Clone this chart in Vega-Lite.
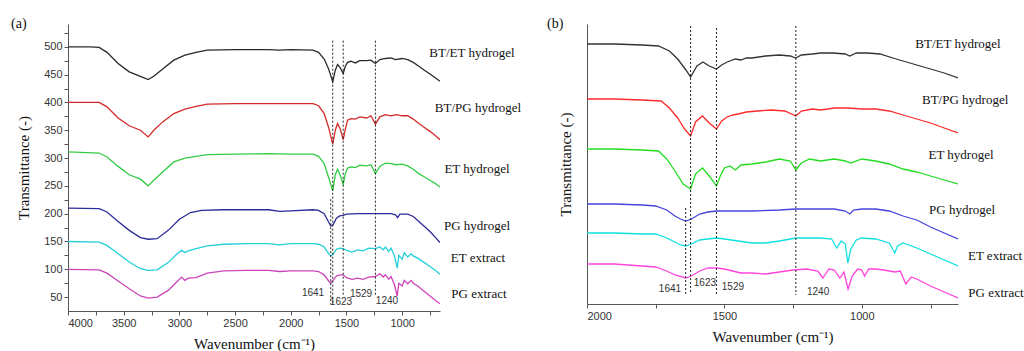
{
  "$schema": "https://vega.github.io/schema/vega-lite/v6.json",
  "padding": {"left": 11, "top": 17, "right": 0, "bottom": 0},
  "bounds": "flush",
  "spacing": 147,
  "resolve": {"scale": {"x": "independent", "y": "independent", "color": "independent"}},
  "config": {
    "view": {"stroke": null},
    "axis": {"grid": false, "domainColor": "#555", "tickColor": "#555", "tickSize": 4, "labelOverlap": false, "labelFont": "Liberation Sans", "labelFontSize": 11, "labelColor": "#333", "titleFont": "Liberation Serif", "titleFontSize": 15, "titleFontWeight": "normal", "titleColor": "#111"},
    "title": {"font": "Liberation Serif", "fontSize": 14, "fontWeight": "normal", "anchor": "start", "frame": "group", "offset": -7, "color": "#111"}
  },
  "datasets": {
    "a": [
      {"s":"BT/ET hydrogel","w":4000,"t":500},{"s":"BT/ET hydrogel","w":3800,"t":500},{"s":"BT/ET hydrogel","w":3720,"t":499},{"s":"BT/ET hydrogel","w":3650,"t":490},{"s":"BT/ET hydrogel","w":3550,"t":470},{"s":"BT/ET hydrogel","w":3450,"t":455},{"s":"BT/ET hydrogel","w":3350,"t":447},{"s":"BT/ET hydrogel","w":3280,"t":441},{"s":"BT/ET hydrogel","w":3230,"t":447},{"s":"BT/ET hydrogel","w":3150,"t":460},{"s":"BT/ET hydrogel","w":3050,"t":476},{"s":"BT/ET hydrogel","w":2950,"t":485},{"s":"BT/ET hydrogel","w":2850,"t":490},{"s":"BT/ET hydrogel","w":2750,"t":494},{"s":"BT/ET hydrogel","w":2500,"t":495},{"s":"BT/ET hydrogel","w":2200,"t":495},{"s":"BT/ET hydrogel","w":2100,"t":494},{"s":"BT/ET hydrogel","w":2000,"t":495},{"s":"BT/ET hydrogel","w":1800,"t":494},{"s":"BT/ET hydrogel","w":1750,"t":490},{"s":"BT/ET hydrogel","w":1700,"t":478},{"s":"BT/ET hydrogel","w":1660,"t":460},{"s":"BT/ET hydrogel","w":1623,"t":437},{"s":"BT/ET hydrogel","w":1600,"t":458},{"s":"BT/ET hydrogel","w":1580,"t":468},{"s":"BT/ET hydrogel","w":1555,"t":462},{"s":"BT/ET hydrogel","w":1529,"t":452},{"s":"BT/ET hydrogel","w":1510,"t":465},{"s":"BT/ET hydrogel","w":1490,"t":472},{"s":"BT/ET hydrogel","w":1460,"t":474},{"s":"BT/ET hydrogel","w":1420,"t":471},{"s":"BT/ET hydrogel","w":1380,"t":475},{"s":"BT/ET hydrogel","w":1320,"t":475},{"s":"BT/ET hydrogel","w":1280,"t":476},{"s":"BT/ET hydrogel","w":1240,"t":470},{"s":"BT/ET hydrogel","w":1200,"t":477},{"s":"BT/ET hydrogel","w":1150,"t":479},{"s":"BT/ET hydrogel","w":1100,"t":480},{"s":"BT/ET hydrogel","w":1060,"t":477},{"s":"BT/ET hydrogel","w":1000,"t":479},{"s":"BT/ET hydrogel","w":950,"t":477},{"s":"BT/ET hydrogel","w":900,"t":472},{"s":"BT/ET hydrogel","w":850,"t":465},{"s":"BT/ET hydrogel","w":800,"t":458},{"s":"BT/ET hydrogel","w":750,"t":451},{"s":"BT/ET hydrogel","w":700,"t":444},{"s":"BT/ET hydrogel","w":660,"t":438},
      {"s":"BT/PG hydrogel","w":4000,"t":400},{"s":"BT/PG hydrogel","w":3720,"t":400},{"s":"BT/PG hydrogel","w":3650,"t":392},{"s":"BT/PG hydrogel","w":3550,"t":372},{"s":"BT/PG hydrogel","w":3450,"t":358},{"s":"BT/PG hydrogel","w":3350,"t":350},{"s":"BT/PG hydrogel","w":3280,"t":338},{"s":"BT/PG hydrogel","w":3230,"t":350},{"s":"BT/PG hydrogel","w":3150,"t":365},{"s":"BT/PG hydrogel","w":3050,"t":380},{"s":"BT/PG hydrogel","w":2950,"t":388},{"s":"BT/PG hydrogel","w":2850,"t":393},{"s":"BT/PG hydrogel","w":2750,"t":397},{"s":"BT/PG hydrogel","w":2500,"t":398},{"s":"BT/PG hydrogel","w":2200,"t":398},{"s":"BT/PG hydrogel","w":2000,"t":398},{"s":"BT/PG hydrogel","w":1800,"t":398},{"s":"BT/PG hydrogel","w":1750,"t":394},{"s":"BT/PG hydrogel","w":1700,"t":380},{"s":"BT/PG hydrogel","w":1660,"t":355},{"s":"BT/PG hydrogel","w":1623,"t":325},{"s":"BT/PG hydrogel","w":1600,"t":350},{"s":"BT/PG hydrogel","w":1580,"t":362},{"s":"BT/PG hydrogel","w":1555,"t":352},{"s":"BT/PG hydrogel","w":1529,"t":333},{"s":"BT/PG hydrogel","w":1510,"t":352},{"s":"BT/PG hydrogel","w":1490,"t":368},{"s":"BT/PG hydrogel","w":1460,"t":371},{"s":"BT/PG hydrogel","w":1420,"t":370},{"s":"BT/PG hydrogel","w":1380,"t":374},{"s":"BT/PG hydrogel","w":1320,"t":372},{"s":"BT/PG hydrogel","w":1280,"t":376},{"s":"BT/PG hydrogel","w":1240,"t":361},{"s":"BT/PG hydrogel","w":1200,"t":374},{"s":"BT/PG hydrogel","w":1150,"t":378},{"s":"BT/PG hydrogel","w":1100,"t":376},{"s":"BT/PG hydrogel","w":1050,"t":378},{"s":"BT/PG hydrogel","w":1000,"t":376},{"s":"BT/PG hydrogel","w":950,"t":376},{"s":"BT/PG hydrogel","w":900,"t":370},{"s":"BT/PG hydrogel","w":850,"t":362},{"s":"BT/PG hydrogel","w":800,"t":355},{"s":"BT/PG hydrogel","w":750,"t":348},{"s":"BT/PG hydrogel","w":700,"t":340},{"s":"BT/PG hydrogel","w":660,"t":333},
      {"s":"ET hydrogel","w":4000,"t":311},{"s":"ET hydrogel","w":3720,"t":309},{"s":"ET hydrogel","w":3650,"t":302},{"s":"ET hydrogel","w":3550,"t":285},{"s":"ET hydrogel","w":3450,"t":270},{"s":"ET hydrogel","w":3350,"t":262},{"s":"ET hydrogel","w":3280,"t":250},{"s":"ET hydrogel","w":3230,"t":260},{"s":"ET hydrogel","w":3150,"t":275},{"s":"ET hydrogel","w":3050,"t":293},{"s":"ET hydrogel","w":2950,"t":300},{"s":"ET hydrogel","w":2850,"t":303},{"s":"ET hydrogel","w":2750,"t":306},{"s":"ET hydrogel","w":2500,"t":307},{"s":"ET hydrogel","w":2200,"t":308},{"s":"ET hydrogel","w":2000,"t":307},{"s":"ET hydrogel","w":1800,"t":307},{"s":"ET hydrogel","w":1750,"t":303},{"s":"ET hydrogel","w":1700,"t":290},{"s":"ET hydrogel","w":1660,"t":265},{"s":"ET hydrogel","w":1623,"t":241},{"s":"ET hydrogel","w":1600,"t":270},{"s":"ET hydrogel","w":1580,"t":280},{"s":"ET hydrogel","w":1555,"t":268},{"s":"ET hydrogel","w":1529,"t":253},{"s":"ET hydrogel","w":1510,"t":272},{"s":"ET hydrogel","w":1490,"t":282},{"s":"ET hydrogel","w":1460,"t":284},{"s":"ET hydrogel","w":1420,"t":283},{"s":"ET hydrogel","w":1380,"t":287},{"s":"ET hydrogel","w":1320,"t":286},{"s":"ET hydrogel","w":1280,"t":288},{"s":"ET hydrogel","w":1240,"t":272},{"s":"ET hydrogel","w":1200,"t":285},{"s":"ET hydrogel","w":1150,"t":291},{"s":"ET hydrogel","w":1100,"t":290},{"s":"ET hydrogel","w":1050,"t":288},{"s":"ET hydrogel","w":1000,"t":289},{"s":"ET hydrogel","w":950,"t":286},{"s":"ET hydrogel","w":900,"t":280},{"s":"ET hydrogel","w":850,"t":272},{"s":"ET hydrogel","w":800,"t":266},{"s":"ET hydrogel","w":750,"t":260},{"s":"ET hydrogel","w":700,"t":254},{"s":"ET hydrogel","w":660,"t":248},
      {"s":"PG hydrogel","w":4000,"t":210},{"s":"PG hydrogel","w":3720,"t":209},{"s":"PG hydrogel","w":3650,"t":203},{"s":"PG hydrogel","w":3550,"t":186},{"s":"PG hydrogel","w":3450,"t":170},{"s":"PG hydrogel","w":3350,"t":157},{"s":"PG hydrogel","w":3280,"t":154},{"s":"PG hydrogel","w":3200,"t":155},{"s":"PG hydrogel","w":3100,"t":170},{"s":"PG hydrogel","w":3000,"t":190},{"s":"PG hydrogel","w":2900,"t":202},{"s":"PG hydrogel","w":2800,"t":206},{"s":"PG hydrogel","w":2600,"t":207},{"s":"PG hydrogel","w":2200,"t":207},{"s":"PG hydrogel","w":2100,"t":204},{"s":"PG hydrogel","w":2000,"t":205},{"s":"PG hydrogel","w":1800,"t":207},{"s":"PG hydrogel","w":1750,"t":206},{"s":"PG hydrogel","w":1700,"t":200},{"s":"PG hydrogel","w":1660,"t":185},{"s":"PG hydrogel","w":1641,"t":178},{"s":"PG hydrogel","w":1620,"t":180},{"s":"PG hydrogel","w":1590,"t":192},{"s":"PG hydrogel","w":1560,"t":196},{"s":"PG hydrogel","w":1529,"t":197},{"s":"PG hydrogel","w":1500,"t":199},{"s":"PG hydrogel","w":1400,"t":200},{"s":"PG hydrogel","w":1300,"t":200},{"s":"PG hydrogel","w":1200,"t":200},{"s":"PG hydrogel","w":1100,"t":200},{"s":"PG hydrogel","w":1060,"t":198},{"s":"PG hydrogel","w":1040,"t":193},{"s":"PG hydrogel","w":1020,"t":199},{"s":"PG hydrogel","w":1000,"t":199},{"s":"PG hydrogel","w":950,"t":199},{"s":"PG hydrogel","w":900,"t":195},{"s":"PG hydrogel","w":850,"t":186},{"s":"PG hydrogel","w":800,"t":177},{"s":"PG hydrogel","w":750,"t":168},{"s":"PG hydrogel","w":700,"t":157},{"s":"PG hydrogel","w":660,"t":148},
      {"s":"ET extract","w":4000,"t":150},{"s":"ET extract","w":3720,"t":149},{"s":"ET extract","w":3650,"t":143},{"s":"ET extract","w":3550,"t":128},{"s":"ET extract","w":3450,"t":113},{"s":"ET extract","w":3350,"t":101},{"s":"ET extract","w":3280,"t":98},{"s":"ET extract","w":3200,"t":99},{"s":"ET extract","w":3100,"t":112},{"s":"ET extract","w":3020,"t":128},{"s":"ET extract","w":2980,"t":134},{"s":"ET extract","w":2950,"t":130},{"s":"ET extract","w":2920,"t":133},{"s":"ET extract","w":2850,"t":137},{"s":"ET extract","w":2750,"t":142},{"s":"ET extract","w":2600,"t":145},{"s":"ET extract","w":2400,"t":146},{"s":"ET extract","w":2200,"t":146},{"s":"ET extract","w":2100,"t":144},{"s":"ET extract","w":2000,"t":146},{"s":"ET extract","w":1800,"t":146},{"s":"ET extract","w":1750,"t":145},{"s":"ET extract","w":1700,"t":140},{"s":"ET extract","w":1660,"t":128},{"s":"ET extract","w":1641,"t":124},{"s":"ET extract","w":1620,"t":127},{"s":"ET extract","w":1590,"t":136},{"s":"ET extract","w":1560,"t":138},{"s":"ET extract","w":1529,"t":137},{"s":"ET extract","w":1500,"t":134},{"s":"ET extract","w":1450,"t":131},{"s":"ET extract","w":1400,"t":135},{"s":"ET extract","w":1350,"t":133},{"s":"ET extract","w":1300,"t":138},{"s":"ET extract","w":1240,"t":137},{"s":"ET extract","w":1200,"t":140},{"s":"ET extract","w":1170,"t":135},{"s":"ET extract","w":1150,"t":140},{"s":"ET extract","w":1120,"t":132},{"s":"ET extract","w":1100,"t":138},{"s":"ET extract","w":1070,"t":125},{"s":"ET extract","w":1044,"t":102},{"s":"ET extract","w":1030,"t":125},{"s":"ET extract","w":1000,"t":118},{"s":"ET extract","w":980,"t":130},{"s":"ET extract","w":950,"t":122},{"s":"ET extract","w":920,"t":128},{"s":"ET extract","w":900,"t":124},{"s":"ET extract","w":860,"t":120},{"s":"ET extract","w":800,"t":112},{"s":"ET extract","w":750,"t":105},{"s":"ET extract","w":700,"t":98},{"s":"ET extract","w":660,"t":91},
      {"s":"PG extract","w":4000,"t":100},{"s":"PG extract","w":3720,"t":99},{"s":"PG extract","w":3650,"t":93},{"s":"PG extract","w":3550,"t":79},{"s":"PG extract","w":3450,"t":65},{"s":"PG extract","w":3350,"t":52},{"s":"PG extract","w":3280,"t":48},{"s":"PG extract","w":3200,"t":50},{"s":"PG extract","w":3100,"t":62},{"s":"PG extract","w":3020,"t":78},{"s":"PG extract","w":2980,"t":86},{"s":"PG extract","w":2950,"t":80},{"s":"PG extract","w":2920,"t":84},{"s":"PG extract","w":2850,"t":85},{"s":"PG extract","w":2750,"t":93},{"s":"PG extract","w":2600,"t":97},{"s":"PG extract","w":2400,"t":98},{"s":"PG extract","w":2200,"t":98},{"s":"PG extract","w":2100,"t":96},{"s":"PG extract","w":2000,"t":97},{"s":"PG extract","w":1800,"t":97},{"s":"PG extract","w":1750,"t":96},{"s":"PG extract","w":1700,"t":90},{"s":"PG extract","w":1660,"t":79},{"s":"PG extract","w":1641,"t":75},{"s":"PG extract","w":1620,"t":80},{"s":"PG extract","w":1590,"t":88},{"s":"PG extract","w":1560,"t":90},{"s":"PG extract","w":1529,"t":90},{"s":"PG extract","w":1500,"t":85},{"s":"PG extract","w":1450,"t":82},{"s":"PG extract","w":1400,"t":84},{"s":"PG extract","w":1350,"t":82},{"s":"PG extract","w":1300,"t":86},{"s":"PG extract","w":1240,"t":87},{"s":"PG extract","w":1200,"t":92},{"s":"PG extract","w":1170,"t":86},{"s":"PG extract","w":1150,"t":90},{"s":"PG extract","w":1120,"t":82},{"s":"PG extract","w":1100,"t":87},{"s":"PG extract","w":1070,"t":73},{"s":"PG extract","w":1044,"t":52},{"s":"PG extract","w":1030,"t":75},{"s":"PG extract","w":1000,"t":70},{"s":"PG extract","w":980,"t":80},{"s":"PG extract","w":950,"t":74},{"s":"PG extract","w":920,"t":80},{"s":"PG extract","w":900,"t":75},{"s":"PG extract","w":860,"t":70},{"s":"PG extract","w":800,"t":60},{"s":"PG extract","w":750,"t":52},{"s":"PG extract","w":700,"t":44},{"s":"PG extract","w":660,"t":38}
    ],
    "b": [
      {"s":"BT/ET hydrogel","w":2000,"t":260},{"s":"BT/ET hydrogel","w":1900,"t":260},{"s":"BT/ET hydrogel","w":1800,"t":259},{"s":"BT/ET hydrogel","w":1740,"t":258},{"s":"BT/ET hydrogel","w":1700,"t":253},{"s":"BT/ET hydrogel","w":1670,"t":245},{"s":"BT/ET hydrogel","w":1640,"t":234},{"s":"BT/ET hydrogel","w":1623,"t":227},{"s":"BT/ET hydrogel","w":1600,"t":238},{"s":"BT/ET hydrogel","w":1578,"t":242},{"s":"BT/ET hydrogel","w":1555,"t":238},{"s":"BT/ET hydrogel","w":1529,"t":235},{"s":"BT/ET hydrogel","w":1510,"t":239},{"s":"BT/ET hydrogel","w":1490,"t":242},{"s":"BT/ET hydrogel","w":1460,"t":245},{"s":"BT/ET hydrogel","w":1440,"t":244},{"s":"BT/ET hydrogel","w":1420,"t":246},{"s":"BT/ET hydrogel","w":1400,"t":246},{"s":"BT/ET hydrogel","w":1350,"t":248},{"s":"BT/ET hydrogel","w":1300,"t":249},{"s":"BT/ET hydrogel","w":1260,"t":248},{"s":"BT/ET hydrogel","w":1240,"t":246},{"s":"BT/ET hydrogel","w":1220,"t":249},{"s":"BT/ET hydrogel","w":1180,"t":250},{"s":"BT/ET hydrogel","w":1150,"t":251},{"s":"BT/ET hydrogel","w":1105,"t":251},{"s":"BT/ET hydrogel","w":1060,"t":250},{"s":"BT/ET hydrogel","w":1044,"t":248},{"s":"BT/ET hydrogel","w":1020,"t":251},{"s":"BT/ET hydrogel","w":980,"t":251},{"s":"BT/ET hydrogel","w":934,"t":250},{"s":"BT/ET hydrogel","w":887,"t":246},{"s":"BT/ET hydrogel","w":850,"t":243},{"s":"BT/ET hydrogel","w":800,"t":239},{"s":"BT/ET hydrogel","w":750,"t":235},{"s":"BT/ET hydrogel","w":700,"t":231},{"s":"BT/ET hydrogel","w":650,"t":226},
      {"s":"BT/PG hydrogel","w":2000,"t":205},{"s":"BT/PG hydrogel","w":1900,"t":205},{"s":"BT/PG hydrogel","w":1800,"t":204},{"s":"BT/PG hydrogel","w":1730,"t":203},{"s":"BT/PG hydrogel","w":1700,"t":196},{"s":"BT/PG hydrogel","w":1670,"t":186},{"s":"BT/PG hydrogel","w":1645,"t":175},{"s":"BT/PG hydrogel","w":1623,"t":168},{"s":"BT/PG hydrogel","w":1605,"t":182},{"s":"BT/PG hydrogel","w":1580,"t":188},{"s":"BT/PG hydrogel","w":1555,"t":181},{"s":"BT/PG hydrogel","w":1529,"t":175},{"s":"BT/PG hydrogel","w":1510,"t":183},{"s":"BT/PG hydrogel","w":1490,"t":187},{"s":"BT/PG hydrogel","w":1470,"t":189},{"s":"BT/PG hydrogel","w":1450,"t":190},{"s":"BT/PG hydrogel","w":1420,"t":192},{"s":"BT/PG hydrogel","w":1380,"t":193},{"s":"BT/PG hydrogel","w":1330,"t":194},{"s":"BT/PG hydrogel","w":1280,"t":193},{"s":"BT/PG hydrogel","w":1240,"t":188},{"s":"BT/PG hydrogel","w":1220,"t":193},{"s":"BT/PG hydrogel","w":1180,"t":195},{"s":"BT/PG hydrogel","w":1150,"t":194},{"s":"BT/PG hydrogel","w":1100,"t":196},{"s":"BT/PG hydrogel","w":1050,"t":196},{"s":"BT/PG hydrogel","w":1000,"t":195},{"s":"BT/PG hydrogel","w":950,"t":195},{"s":"BT/PG hydrogel","w":900,"t":193},{"s":"BT/PG hydrogel","w":850,"t":189},{"s":"BT/PG hydrogel","w":800,"t":185},{"s":"BT/PG hydrogel","w":750,"t":181},{"s":"BT/PG hydrogel","w":700,"t":176},{"s":"BT/PG hydrogel","w":650,"t":171},
      {"s":"ET hydrogel","w":2000,"t":155},{"s":"ET hydrogel","w":1900,"t":155},{"s":"ET hydrogel","w":1800,"t":154},{"s":"ET hydrogel","w":1740,"t":153},{"s":"ET hydrogel","w":1710,"t":145},{"s":"ET hydrogel","w":1680,"t":133},{"s":"ET hydrogel","w":1650,"t":120},{"s":"ET hydrogel","w":1623,"t":115},{"s":"ET hydrogel","w":1605,"t":130},{"s":"ET hydrogel","w":1580,"t":136},{"s":"ET hydrogel","w":1555,"t":128},{"s":"ET hydrogel","w":1529,"t":118},{"s":"ET hydrogel","w":1515,"t":128},{"s":"ET hydrogel","w":1500,"t":136},{"s":"ET hydrogel","w":1480,"t":138},{"s":"ET hydrogel","w":1460,"t":134},{"s":"ET hydrogel","w":1440,"t":139},{"s":"ET hydrogel","w":1400,"t":140},{"s":"ET hydrogel","w":1350,"t":142},{"s":"ET hydrogel","w":1300,"t":145},{"s":"ET hydrogel","w":1260,"t":143},{"s":"ET hydrogel","w":1240,"t":134},{"s":"ET hydrogel","w":1220,"t":141},{"s":"ET hydrogel","w":1190,"t":145},{"s":"ET hydrogel","w":1150,"t":143},{"s":"ET hydrogel","w":1100,"t":145},{"s":"ET hydrogel","w":1060,"t":143},{"s":"ET hydrogel","w":1040,"t":141},{"s":"ET hydrogel","w":1000,"t":145},{"s":"ET hydrogel","w":950,"t":143},{"s":"ET hydrogel","w":900,"t":140},{"s":"ET hydrogel","w":850,"t":135},{"s":"ET hydrogel","w":800,"t":132},{"s":"ET hydrogel","w":750,"t":128},{"s":"ET hydrogel","w":700,"t":124},{"s":"ET hydrogel","w":650,"t":120},
      {"s":"PG hydrogel","w":2000,"t":100},{"s":"PG hydrogel","w":1900,"t":100},{"s":"PG hydrogel","w":1800,"t":99},{"s":"PG hydrogel","w":1750,"t":98},{"s":"PG hydrogel","w":1710,"t":94},{"s":"PG hydrogel","w":1680,"t":88},{"s":"PG hydrogel","w":1660,"t":85},{"s":"PG hydrogel","w":1641,"t":83},{"s":"PG hydrogel","w":1620,"t":85},{"s":"PG hydrogel","w":1590,"t":90},{"s":"PG hydrogel","w":1560,"t":92},{"s":"PG hydrogel","w":1529,"t":93},{"s":"PG hydrogel","w":1500,"t":93},{"s":"PG hydrogel","w":1400,"t":93},{"s":"PG hydrogel","w":1300,"t":94},{"s":"PG hydrogel","w":1240,"t":95},{"s":"PG hydrogel","w":1150,"t":95},{"s":"PG hydrogel","w":1100,"t":95},{"s":"PG hydrogel","w":1060,"t":93},{"s":"PG hydrogel","w":1044,"t":90},{"s":"PG hydrogel","w":1030,"t":94},{"s":"PG hydrogel","w":1000,"t":95},{"s":"PG hydrogel","w":950,"t":95},{"s":"PG hydrogel","w":900,"t":93},{"s":"PG hydrogel","w":850,"t":88},{"s":"PG hydrogel","w":800,"t":84},{"s":"PG hydrogel","w":750,"t":77},{"s":"PG hydrogel","w":700,"t":71},{"s":"PG hydrogel","w":650,"t":65},
      {"s":"ET extract","w":2000,"t":71},{"s":"ET extract","w":1900,"t":71},{"s":"ET extract","w":1800,"t":70},{"s":"ET extract","w":1750,"t":70},{"s":"ET extract","w":1710,"t":66},{"s":"ET extract","w":1680,"t":62},{"s":"ET extract","w":1660,"t":59},{"s":"ET extract","w":1641,"t":58},{"s":"ET extract","w":1620,"t":60},{"s":"ET extract","w":1590,"t":64},{"s":"ET extract","w":1560,"t":65},{"s":"ET extract","w":1529,"t":66},{"s":"ET extract","w":1500,"t":65},{"s":"ET extract","w":1450,"t":63},{"s":"ET extract","w":1400,"t":61},{"s":"ET extract","w":1350,"t":61},{"s":"ET extract","w":1300,"t":63},{"s":"ET extract","w":1240,"t":66},{"s":"ET extract","w":1200,"t":66},{"s":"ET extract","w":1150,"t":66},{"s":"ET extract","w":1110,"t":65},{"s":"ET extract","w":1091,"t":56},{"s":"ET extract","w":1075,"t":63},{"s":"ET extract","w":1060,"t":60},{"s":"ET extract","w":1051,"t":41},{"s":"ET extract","w":1040,"t":55},{"s":"ET extract","w":1020,"t":64},{"s":"ET extract","w":1000,"t":66},{"s":"ET extract","w":950,"t":65},{"s":"ET extract","w":900,"t":61},{"s":"ET extract","w":880,"t":51},{"s":"ET extract","w":870,"t":58},{"s":"ET extract","w":850,"t":61},{"s":"ET extract","w":800,"t":56},{"s":"ET extract","w":750,"t":50},{"s":"ET extract","w":700,"t":44},{"s":"ET extract","w":650,"t":38},
      {"s":"PG extract","w":2000,"t":40},{"s":"PG extract","w":1900,"t":40},{"s":"PG extract","w":1800,"t":38},{"s":"PG extract","w":1750,"t":37},{"s":"PG extract","w":1710,"t":33},{"s":"PG extract","w":1680,"t":29},{"s":"PG extract","w":1641,"t":26},{"s":"PG extract","w":1620,"t":28},{"s":"PG extract","w":1590,"t":33},{"s":"PG extract","w":1560,"t":36},{"s":"PG extract","w":1529,"t":36},{"s":"PG extract","w":1500,"t":35},{"s":"PG extract","w":1470,"t":33},{"s":"PG extract","w":1440,"t":31},{"s":"PG extract","w":1400,"t":31},{"s":"PG extract","w":1350,"t":30},{"s":"PG extract","w":1300,"t":32},{"s":"PG extract","w":1250,"t":34},{"s":"PG extract","w":1200,"t":35},{"s":"PG extract","w":1160,"t":33},{"s":"PG extract","w":1142,"t":26},{"s":"PG extract","w":1120,"t":35},{"s":"PG extract","w":1100,"t":34},{"s":"PG extract","w":1080,"t":26},{"s":"PG extract","w":1065,"t":32},{"s":"PG extract","w":1050,"t":15},{"s":"PG extract","w":1035,"t":28},{"s":"PG extract","w":1015,"t":35},{"s":"PG extract","w":1000,"t":34},{"s":"PG extract","w":990,"t":28},{"s":"PG extract","w":975,"t":35},{"s":"PG extract","w":950,"t":35},{"s":"PG extract","w":920,"t":34},{"s":"PG extract","w":880,"t":32},{"s":"PG extract","w":860,"t":33},{"s":"PG extract","w":840,"t":20},{"s":"PG extract","w":820,"t":27},{"s":"PG extract","w":800,"t":25},{"s":"PG extract","w":750,"t":18},{"s":"PG extract","w":700,"t":12},{"s":"PG extract","w":650,"t":6}
    ],
    "peaksA": [
      {"w":1641,"t":226,"t2":37},{"w":1623,"t":511,"t2":37},{"w":1529,"t":511,"t2":52},{"w":1240,"t":511,"t2":52}
    ],
    "peaksB": [
      {"w":1641,"t":96,"t2":10},{"w":1623,"t":278,"t2":10},{"w":1529,"t":276,"t2":8},{"w":1240,"t":278,"t2":9}
    ],
    "plabA": [
      {"l":"1641","w":1800,"t":57},{"l":"1623","w":1549,"t":41},{"l":"1529","w":1369,"t":55},{"l":"1240","w":1136,"t":43}
    ],
    "plabB": [
      {"l":"1641","w":1698,"t":15},{"l":"1623","w":1571,"t":21},{"l":"1529","w":1469,"t":17},{"l":"1240","w":1159,"t":12}
    ],
    "slabA": [
      {"l":"BT/ET hydrogel","w":373,"t":489},{"l":"BT/PG hydrogel","w":319,"t":390},{"l":"ET hydrogel","w":328,"t":280},{"l":"PG hydrogel","w":328,"t":178},{"l":"ET extract","w":319,"t":120},{"l":"PG extract","w":310,"t":55}
    ],
    "slabB": [
      {"l":"BT/ET hydrogel","w":650,"t":260},{"l":"BT/PG hydrogel","w":624,"t":204},{"l":"ET hydrogel","w":639,"t":149},{"l":"PG hydrogel","w":635,"t":94},{"l":"ET extract","w":515,"t":48},{"l":"PG extract","w":512,"t":11}
    ]
  },
  "hconcat": [
    {
      "width": 372,
      "height": 287,
      "title": {"text": "(a)", "dx": -57},
      "encoding": {
        "x": {"field": "w", "type": "quantitative", "scale": {"domain": [4000, 660], "nice": false, "zero": false}, "axis": {"title": "Wavenumber (cm⁻¹)", "values": [4000, 3750, 3500, 3250, 3000, 2750, 2500, 2250, 2000, 1750, 1500, 1250, 1000, 750], "labelExpr": "datum.value % 500 === 0 ? datum.label : ''", "labelOverlap": false, "format": "d", "titlePadding": 8}},
        "y": {"field": "t", "type": "quantitative", "scale": {"domain": [25, 541], "nice": false, "zero": false}, "axis": {"title": "Transmittance (-)", "values": [50, 75, 100, 125, 150, 175, 200, 225, 250, 275, 300, 325, 350, 375, 400, 425, 450, 475, 500, 525], "labelExpr": "datum.value % 50 === 0 ? datum.label : ''", "labelOverlap": false, "format": "d", "titlePadding": 12}}
      },
      "layer": [
        {
          "data": {"name": "a"},
          "mark": {"type": "line", "strokeWidth": 1.3, "clip": true},
          "encoding": {
            "color": {"field": "s", "type": "nominal", "legend": null, "scale": {"domain": ["BT/ET hydrogel", "BT/PG hydrogel", "ET hydrogel", "PG hydrogel", "ET extract", "PG extract"], "range": ["#2a2a2a", "#d42a2a", "#33cc44", "#2b2b99", "#22d0d8", "#cc44bb"]}},
            "detail": {"field": "s"}
          }
        },
        {
          "data": {"name": "peaksA"},
          "mark": {"type": "rule", "strokeDash": [2, 2], "color": "#222", "strokeWidth": 1},
          "encoding": {"y2": {"field": "t2"}}
        },
        {
          "data": {"name": "plabA"},
          "mark": {"type": "text", "font": "Liberation Sans", "fontSize": 10, "color": "#333", "baseline": "middle"},
          "encoding": {"text": {"field": "l"}}
        },
        {
          "data": {"name": "slabA"},
          "mark": {"type": "text", "font": "Liberation Serif", "fontSize": 13, "color": "#111", "baseline": "middle", "align": "center"},
          "encoding": {"text": {"field": "l"}}
        }
      ]
    },
    {
      "width": 371,
      "height": 280,
      "title": {"text": "(b)", "dx": -40},
      "encoding": {
        "x": {"field": "w", "type": "quantitative", "scale": {"domain": [2000, 650], "nice": false, "zero": false}, "axis": {"title": "Wavenumber (cm⁻¹)", "values": [2000, 1750, 1500, 1250, 1000, 750], "labelExpr": "datum.value % 500 === 0 ? datum.label : ''", "labelOverlap": false, "format": "d", "titlePadding": 8}},
        "y": {"field": "t", "type": "quantitative", "scale": {"domain": [0, 280], "nice": false, "zero": false}, "axis": {"title": "Transmittance (-)", "ticks": false, "labels": false, "titlePadding": 14}}
      },
      "layer": [
        {
          "data": {"name": "b"},
          "mark": {"type": "line", "strokeWidth": 1.3, "clip": true},
          "encoding": {
            "color": {"field": "s", "type": "nominal", "legend": null, "scale": {"domain": ["BT/ET hydrogel", "BT/PG hydrogel", "ET hydrogel", "PG hydrogel", "ET extract", "PG extract"], "range": ["#333333", "#ff2a2a", "#22dd22", "#4444dd", "#11e0e0", "#ff44dd"]}},
            "detail": {"field": "s"}
          }
        },
        {
          "data": {"name": "peaksB"},
          "mark": {"type": "rule", "strokeDash": [2, 2], "color": "#222", "strokeWidth": 1},
          "encoding": {"y2": {"field": "t2"}}
        },
        {
          "data": {"name": "plabB"},
          "mark": {"type": "text", "font": "Liberation Sans", "fontSize": 10, "color": "#333", "baseline": "middle"},
          "encoding": {"text": {"field": "l"}}
        },
        {
          "data": {"name": "slabB"},
          "mark": {"type": "text", "font": "Liberation Serif", "fontSize": 13, "color": "#111", "baseline": "middle", "align": "center"},
          "encoding": {"text": {"field": "l"}}
        }
      ]
    }
  ]
}
